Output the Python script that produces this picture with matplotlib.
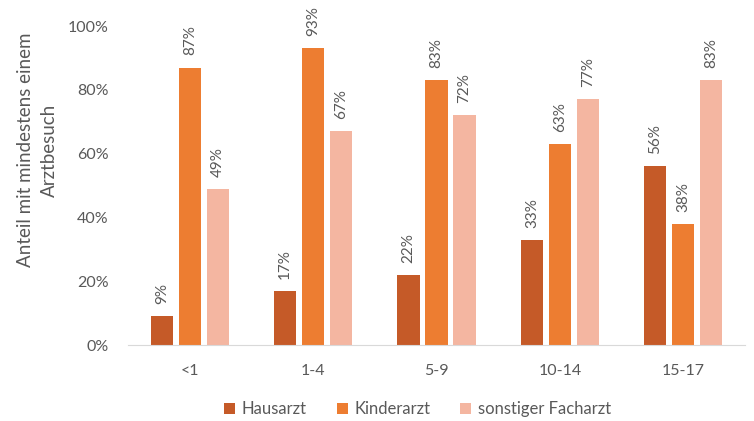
import matplotlib.pyplot as plt
import numpy as np
from matplotlib.ticker import PercentFormatter

# Altersgruppen und Anteile (in %)
gruppen = ["<1", "1-4", "5-9", "10-14", "15-17"]
hausarzt = [9, 17, 22, 33, 56]
kinderarzt = [87, 93, 83, 63, 38]
facharzt = [49, 67, 72, 77, 83]
serien = ["Hausarzt", "Kinderarzt", "sonstiger Facharzt"]

farben = ["#C55A28", "#ED7D31", "#F4B6A1"]
GRAU = "#595959"

plt.rcParams["font.family"] = ["Lato", "DejaVu Sans"]

fig = plt.figure(figsize=(7.54, 4.21), dpi=100)
ax = fig.add_axes([0.170, 0.1805, 0.818, 0.7575])

x = np.arange(len(gruppen))
w, off = 0.18, 0.227
for i, (werte, name) in enumerate(zip([hausarzt, kinderarzt, facharzt], serien)):
    bars = ax.bar(x + (i - 1) * off, werte, width=w, color=farben[i], label=name)
    for b, v in zip(bars, werte):
        ax.text(b.get_x() + b.get_width() / 2, v + 3.8, f"{v}%",
                ha="center", va="bottom", rotation=90, fontsize=11,
                color=GRAU, clip_on=False)

ax.set_xlim(-0.5, len(gruppen) - 0.5)
ax.set_ylim(0, 100)
ax.set_yticks(range(0, 101, 20))
ax.yaxis.set_major_formatter(PercentFormatter(decimals=0))
ax.set_xticks(x)
ax.set_xticklabels(gruppen)
ax.tick_params(axis="both", length=0, labelsize=11.5, colors=GRAU)
ax.tick_params(axis="y", pad=14)
ax.tick_params(axis="x", pad=14)

for s in ["top", "right", "left"]:
    ax.spines[s].set_visible(False)
ax.spines["bottom"].set_color("#D9D9D9")

fig.text(0.050, 0.644, "Anteil mit mindestens einem\nArztbesuch", rotation=90,
         ha="center", va="center", multialignment="center", fontsize=13.5,
         color=GRAU, linespacing=1.5)

fig.legend(loc="center", bbox_to_anchor=(0.554, 0.028), ncol=3,
           frameon=False, fontsize=12, labelcolor=GRAU, handlelength=0.65,
           handleheight=0.65, handletextpad=0.4, columnspacing=1.8)

fig.savefig("out.png", dpi=100)
